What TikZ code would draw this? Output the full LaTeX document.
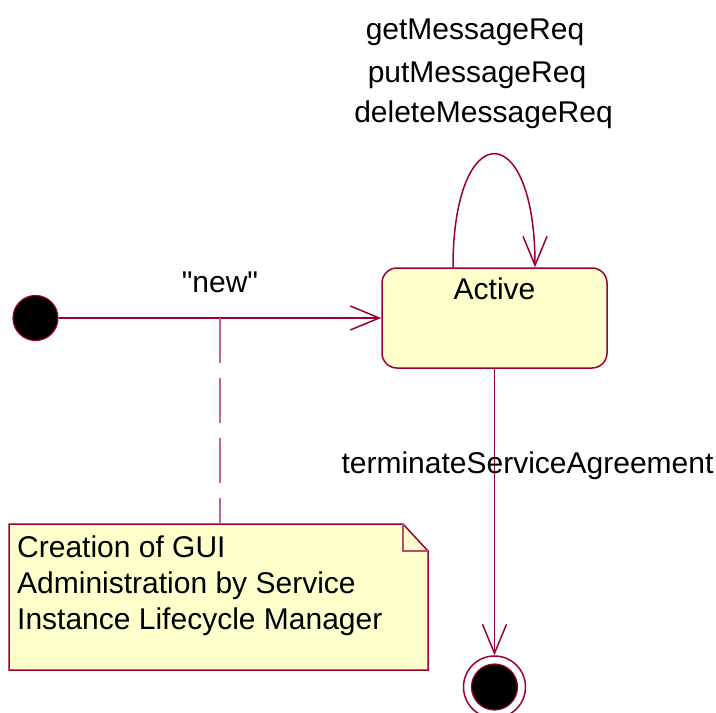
\documentclass[tikz,border=0pt]{standalone}
\usepackage{fontspec}
\setmainfont{Liberation Sans}[Ligatures=TeXOff]
\usetikzlibrary{arrows.meta}
\definecolor{roseline}{RGB}{153,0,51}
\definecolor{rosefill}{RGB}{255,255,204}
\tikzset{
  trans/.style={draw=roseline,line width=1.5pt,
    -{Straight Barb[length=29pt,width=24pt]}},
  initstate/.style={circle,fill=black,draw=roseline,line width=1.2pt,
    minimum size=45pt,inner sep=0pt},
  finalring/.style={circle,draw=roseline,line width=1.5pt,
    minimum size=62pt,inner sep=0pt},
  finaldot/.style={circle,fill=black,draw=roseline,line width=1.2pt,
    minimum size=46pt,inner sep=0pt},
  statebox/.style={rectangle,rounded corners=15pt,draw=roseline,
    fill=rosefill,line width=1.5pt,minimum width=225pt,inner sep=0pt,
    text height=31pt,text depth=69pt},
  notebox/.style={rectangle,minimum width=419pt,minimum height=146pt,
    inner sep=0pt,outer sep=0pt},
  notefold/.style={draw=roseline,fill=rosefill,line width=1.5pt},
  notelink/.style={draw=roseline!60,line width=1.5pt,
    dash pattern=on 45pt off 15pt}
}
\begin{document}
\begin{tikzpicture}[x=1pt,y=-1pt,font=\fontsize{30}{36}\selectfont]
\useasboundingbox (0,0) rectangle (716,713);

% states
\node[initstate] (init) at (35.5,318) {};
\node[statebox,anchor=base] (active) at (494.5,299) {Active};
\node[finalring] (final) at (494.5,687) {};
\node[finaldot] (enddot) at (final) {};

% note
\node[notebox] (note) at (218.5,597) {};
\path[notefold] (note.north west) -- ([xshift=-25pt]note.north east)
  -- ([yshift=-27pt]note.north east) -- (note.south east)
  -- (note.south west) -- cycle;
\draw[notefold,fill=none,draw=roseline!70] ([xshift=-25pt]note.north east)
  |- ([yshift=-27pt]note.north east);
\node[anchor=base west,align=left,inner sep=0pt] (notetext) at (17,629)
  {Creation of GUI\\Administration by Service\\Instance Lifecycle Manager};

% transitions
\draw[trans] (init.east) -- coordinate[pos=0.5] (newmid)
  node[pos=0.5,anchor=base,yshift=26pt] (newlbl) {"new"} (active.west);
\draw[notelink] (newmid) -- (newmid |- note.north);

\draw[trans] ([xshift=-41.5pt]active.north) .. controls +(0,-151)
  and +(0,-151) .. ([xshift=40.5pt]active.north);
\node[anchor=base] (getlbl) at (475,39) {getMessageReq};
\node[anchor=base] (putlbl) at (477,82) {putMessageReq};
\node[anchor=base] (dellbl) at (483.5,122) {deleteMessageReq};

\draw[trans] (active.south) -- node[pos=0.365,anchor=base,xshift=33pt]
  (termlbl) {terminateServiceAgreement} (final.north);
\end{tikzpicture}
\end{document}
